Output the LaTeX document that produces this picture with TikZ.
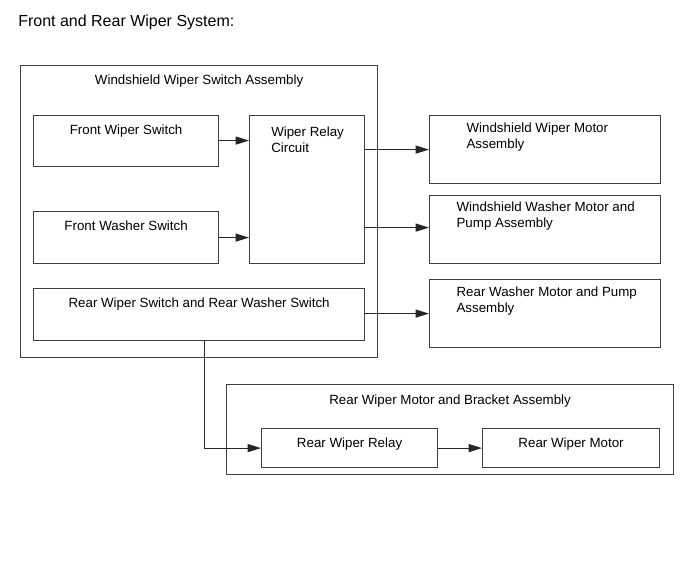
\documentclass[tikz,border=0pt]{standalone}
\usepackage{fontspec}
\setmainfont{Liberation Sans}
\usetikzlibrary{arrows.meta, positioning}

\begin{document}
\begin{tikzpicture}[
    x=0.75pt, y=-0.75pt,
    >={Triangle[length=10pt, width=6pt]},
    arr/.style={->, line width=0.8pt, black!85},
    box/.style={draw=black!75, line width=0.9pt, anchor=north west, inner sep=0pt},
    lbl/.style={font=\fontsize{10}{12}\selectfont, inner sep=0pt, align=left},
]
\useasboundingbox (0,0) rectangle (690,562);
% Title
\node[font=\fontsize{12}{14}\selectfont, inner sep=0pt, anchor=north west] (title) at (18,15) {Front and Rear Wiper System:};
% === Windshield Wiper Switch Assembly ===
\node[box, minimum width=267.75pt, minimum height=219pt] (wsa) at (20,65) {};
\node[lbl, below=7pt of wsa.north] (wsatxt) {Windshield Wiper Switch Assembly};
%
\node[box, minimum width=138.75pt, minimum height=38.25pt] (fws) at (33,115) {};
\node[lbl, below=7.5pt of fws.north] (fwstxt) {Front Wiper Switch};
\node[box, minimum width=138.75pt, minimum height=39pt] (fwash) at (33,211) {};
\node[lbl, below=7pt of fwash.north] (fwashtxt) {Front Washer Switch};
\node[box, minimum width=86.25pt, minimum height=111pt] (wrc) at (249,115) {};
\node[lbl, anchor=north west] (wrctxt) at ([shift={(16.5pt,-8.5pt)}]wrc.north west) {Wiper Relay\\Circuit};
\node[box, minimum width=248.25pt, minimum height=39pt] (rws) at (33,288) {};
\node[lbl, below=7pt of rws.north] (rwstxt) {Rear Wiper Switch and Rear Washer Switch};
% === Motors and pumps ===
\node[box, minimum width=173.25pt, minimum height=51pt] (wwm) at (429,115) {};
\node[lbl, anchor=north west] (wwmtxt) at ([shift={(28pt,-5.5pt)}]wwm.north west) {Windshield Wiper Motor\\Assembly};
\node[box, minimum width=173.25pt, minimum height=51pt] (wwash) at (429,195) {};
\node[lbl, anchor=north west] (wwashtxt) at ([shift={(20.5pt,-5pt)}]wwash.north west) {Windshield Washer Motor and\\Pump Assembly};
\node[box, minimum width=173.25pt, minimum height=51pt] (rwash) at (429,279) {};
\node[lbl, anchor=north west] (rwashtxt) at ([shift={(20.5pt,-6pt)}]rwash.north west) {Rear Washer Motor and Pump\\Assembly};
% === Rear Wiper Motor and Bracket Assembly ===
\node[box, minimum width=335.25pt, minimum height=67.5pt] (rba) at (226,384) {};
\node[lbl, below=8pt of rba.north] (rbatxt) {Rear Wiper Motor and Bracket Assembly};
\node[box, minimum width=132pt, minimum height=29.25pt] (rwr) at (261,428) {};
\node[lbl, below=7pt of rwr.north] (rwrtxt) {Rear Wiper Relay};
\node[box, minimum width=132.75pt, minimum height=29.25pt] (rwm) at (482,428) {};
\node[lbl, below=7pt of rwm.north] (rwmtxt) {Rear Wiper Motor};
% === Connectors ===
\draw[arr] ([yshift=0.4pt]fws.east) -- ([yshift=0.4pt]fws.east -| wrc.west);
\draw[arr] (fwash.east) -- (fwash.east -| wrc.west);
\draw[arr] (wwm.west -| wrc.east) -- (wwm.west);
\draw[arr] ([yshift=1.5pt]wwash.west -| wrc.east) -- ([yshift=1.5pt]wwash.west);
\draw[arr] (rwash.west -| rws.east) -- (rwash.west);
\draw[arr] ([xshift=4pt]rws.south) |- (rwr.west);
\draw[arr] (rwr.east) -- (rwm.west);
\end{tikzpicture}
\end{document}
